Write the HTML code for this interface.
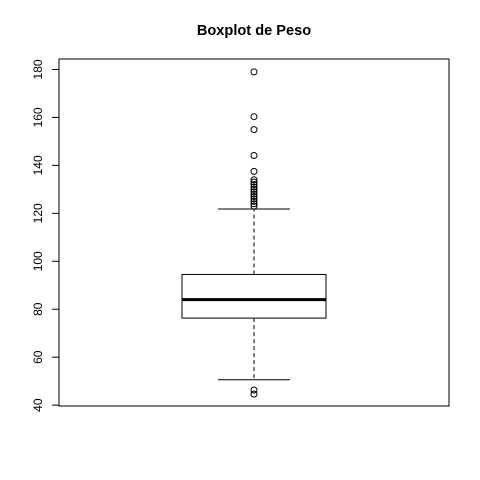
<!DOCTYPE html>
<html><head><meta charset="utf-8"><style>body{margin:0;background:#fff}svg{display:block}</style></head>
<body>
<svg id="c" width="480" height="480" font-family="Liberation Sans, sans-serif">
<text x="254" y="35" text-anchor="middle" font-size="14.6" font-weight="bold">Boxplot de Peso</text>
<rect x="59" y="59" width="390" height="347" fill="none" stroke="#000"/>
<g id="g"></g>
</svg>
<script>
const yTicks=[40,60,80,100,120,140,160,180];
const stats=[76.3,84,94.5];
const whiskers=[50.6,121.8];
const outliers=[179,160.3,154.9,144.1,137.5,134,133,132,131,130,129,128,127,126,125,124,123,46.3,44.6];
const ylim=[39.64,184.36];
const y=v=>406-(v-ylim[0])/(ylim[1]-ylim[0])*347;
const g=document.getElementById('g');const NS='http://www.w3.org/2000/svg';
function mk(t,a){const e=document.createElementNS(NS,t);for(const k in a)e.setAttribute(k,a[k]);g.appendChild(e);return e;}
let ax=mk('line',{x1:59,x2:59,y1:y(yTicks[0]),y2:y(yTicks[yTicks.length-1]),stroke:'#000'});


yTicks.forEach(t=>{
 const l=mk('line',{x1:52,x2:59,y1:y(t),y2:y(t),stroke:'#000'});
 
 
 const tx=mk('text',{x:42,y:y(t),'font-size':12,'text-anchor':'middle',transform:`rotate(-90 42 ${y(t)})`});
 tx.textContent=t;
 
 
});
const cx=254;
let w1=mk('line',{x1:cx,x2:cx,y1:y(stats[2]),y2:y(whiskers[1]),stroke:'#000','stroke-dasharray':'4,3'});


let w2=mk('line',{x1:cx,x2:cx,y1:y(stats[0]),y2:y(whiskers[0]),stroke:'#000','stroke-dasharray':'4,3'});


whiskers.forEach(v=>{const c=mk('line',{x1:218,x2:290,y1:y(v),y2:y(v),stroke:'#000'});
 
 });
let b=mk('rect',{x:182,width:144,y:y(stats[2]),height:y(stats[0])-y(stats[2]),fill:'#fff',stroke:'#000'});


let m=mk('line',{x1:182,x2:326,y1:y(stats[1]),y2:y(stats[1]),stroke:'#000','stroke-width':3});


outliers.forEach(v=>{const c=mk('circle',{cx:cx,cy:y(v),r:3,fill:'none',stroke:'#000'});
 
 });
</script>
</body></html>
